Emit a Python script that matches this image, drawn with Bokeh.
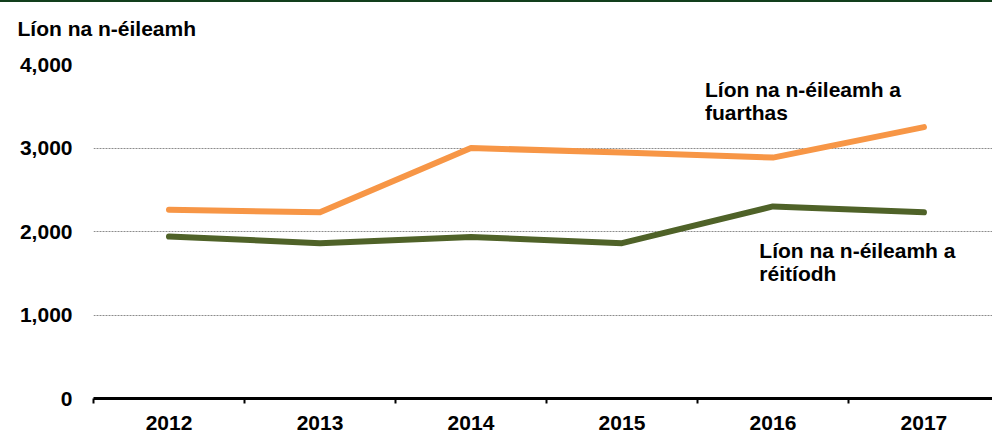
from bokeh.plotting import figure
from bokeh.models import Range1d, FixedTicker, NumeralTickFormatter, Title, Label
from bokeh.embed import file_html
from bokeh.resources import INLINE

years = ["2012", "2013", "2014", "2015", "2016", "2017"]
received = [2260, 2230, 3000, 2945, 2885, 3250]
resolved = [1940, 1860, 1935, 1860, 2300, 2230]
y_ticks = [0, 1000, 2000, 3000, 4000]
y_title = "Líon na n-éileamh"
label_received = "Líon na n-éileamh a\nfuarthas"
label_resolved = "Líon na n-éileamh a\nréitíodh"

FONT = "Liberation Sans"
FS = "21px"
ORANGE = "#F79646"
GREEN = "#4F6228"

xs = [i + 0.5 for i in range(len(years))]

p = figure(width=992, height=433, output_backend="svg", toolbar_location=None,
           x_range=Range1d(0, 5.954), y_range=Range1d(0, 4000),
           min_border_left=93, min_border_right=0, min_border_top=62,
           min_border_bottom=37)
p.styles = {"border-top": "2px solid #123F1C"}
p.outline_line_color = None
p.background_fill_color = "white"
p.border_fill_color = "white"

# trailing empty line lifts the title text above the plot frame
title = Title(text=y_title + "\n", align="left", vertical_align="bottom", offset=-76,
              standoff=3, text_font=FONT, text_font_size=FS, text_font_style="bold",
              text_color="#000000")
p.add_layout(title, "above")

# x axis
p.xaxis.ticker = FixedTicker(ticks=xs, minor_ticks=list(range(len(years) + 1)))
p.xaxis.major_label_overrides = {x: y for x, y in zip(xs, years)}
p.xaxis.major_tick_in = 0
p.xaxis.major_tick_out = 0
p.xaxis.minor_tick_in = 0
p.xaxis.minor_tick_out = 5
p.xaxis.minor_tick_line_width = 2
p.xaxis.minor_tick_line_color = "black"
p.xaxis.axis_line_width = 3
p.xaxis.axis_line_color = "black"
p.xaxis.major_label_standoff = 12
p.xaxis.major_label_text_font = FONT
p.xaxis.major_label_text_font_size = FS
p.xaxis.major_label_text_font_style = "bold"
p.xaxis.major_label_text_color = "black"

# y axis
p.yaxis.ticker = FixedTicker(ticks=y_ticks)
p.yaxis.formatter = NumeralTickFormatter(format="0,0")
p.yaxis.axis_line_color = None
p.yaxis.major_tick_line_color = None
p.yaxis.minor_tick_line_color = None
p.yaxis.major_tick_out = 0
p.yaxis.major_label_standoff = 21
p.yaxis.major_label_text_font = FONT
p.yaxis.major_label_text_font_size = FS
p.yaxis.major_label_text_font_style = "bold"
p.yaxis.major_label_text_color = "black"

p.xgrid.grid_line_color = None
p.ygrid.grid_line_color = "#8c8c8c"
p.ygrid.grid_line_dash = "2 1"
p.ygrid.grid_line_width = 1

p.line(xs, received, line_color=ORANGE, line_width=6, line_cap="round", line_join="round")
p.line(xs, resolved, line_color=GREEN, line_width=6, line_cap="round", line_join="round")

for txt, x, y in [(label_received, 4.05, 3840), (label_resolved, 4.41, 1910)]:
    p.add_layout(Label(x=x, y=y, text=txt, text_font=FONT, text_font_size=FS,
                       text_font_style="bold", text_color="black",
                       text_align="left", text_baseline="top", text_line_height=1.0))

open("out.html", "w").write(file_html(p, INLINE))
